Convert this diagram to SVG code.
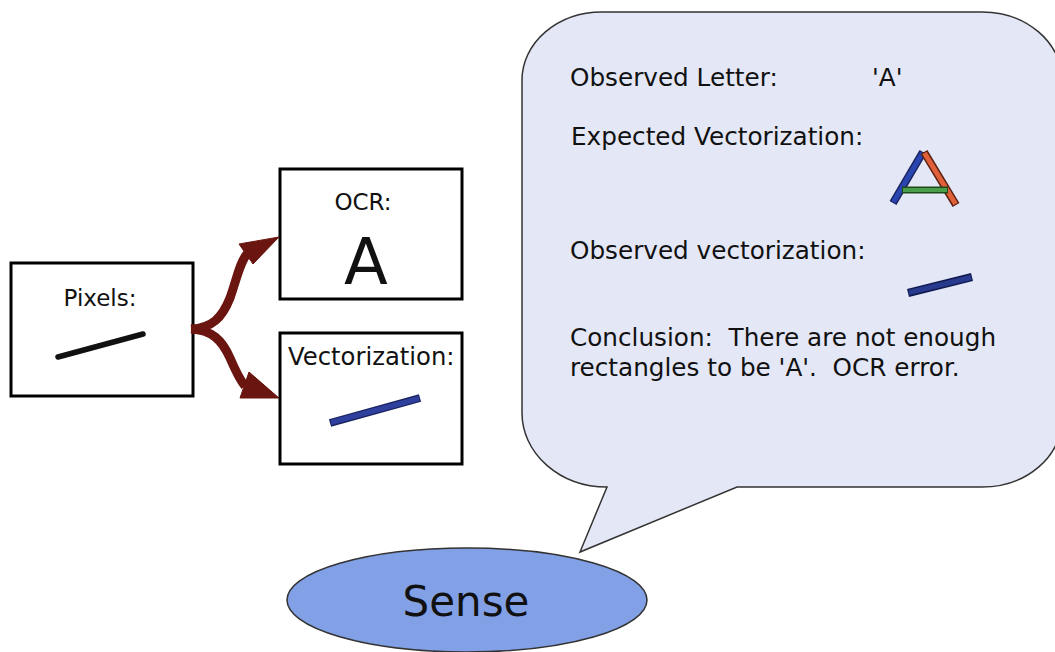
<svg xmlns="http://www.w3.org/2000/svg" width="1055" height="652" viewBox="0 0 1055 652">
  <style>
    .box { fill: #ffffff; stroke: #000000; stroke-width: 3; }
    .lbl { font-family: "DejaVu Sans", Verdana, sans-serif; fill: #111111; }
    .bt { font-size: 24.7px; }
    .arrow { fill: none; stroke: #6a150f; stroke-width: 9; stroke-linecap: butt; }
    .head { fill: #6a150f; stroke: #6a150f; stroke-width: 1; stroke-linejoin: round; }
    .vec { stroke-linecap: butt; }
  </style>
  <rect width="1055" height="652" fill="#ffffff"/>

  <g id="pixels">
    <rect class="box" x="11" y="263" width="182" height="133"/>
    <text class="lbl" x="100" y="306" font-size="23" text-anchor="middle">Pixels:</text>
    <line x1="58" y1="357" x2="143" y2="334" stroke="#111111" stroke-width="5.5" stroke-linecap="round"/>
  </g>

  <g id="ocr">
    <rect class="box" x="280" y="169" width="182" height="130"/>
    <text class="lbl" x="363" y="210" font-size="23" text-anchor="middle">OCR:</text>
    <text class="lbl" x="366" y="284" font-size="64" text-anchor="middle">A</text>
  </g>

  <g id="vectorization">
    <rect class="box" x="280" y="333" width="182" height="131"/>
    <text class="lbl" x="288" y="365" font-size="24.3">Vectorization:</text>
    <line class="vec" x1="330" y1="423" x2="420" y2="398" stroke="#1a2460" stroke-width="8"/>
    <line class="vec" x1="331" y1="422.5" x2="419" y2="398.5" stroke="#2e3f9e" stroke-width="5"/>
  </g>

  <g id="connectors">
    <path class="arrow" d="M 191,329 C 212,328 222,318 230,298 C 237,278 240,262 247,254"/>
    <polygon class="head" points="279,237 239,244 253,264"/>
    <path class="arrow" d="M 191,329 C 212,330 222,340 230,358 C 236,372 240,380 245,386"/>
    <polygon class="head" points="279,398 240,398 249,372"/>
  </g>

  <g id="bubble">
    <path d="M 602,12 L 982,12 A 80,68 0 0 1 1062,80 L 1062,419 A 80,68 0 0 1 982,487 L 737,487 L 580,552 L 607,487 A 85,74 0 0 1 522,413 L 522,80 A 80,68 0 0 1 602,12 Z" fill="#e4e7f5" stroke="#333333" stroke-width="1.5"/>
    <text class="lbl bt" x="570" y="86">Observed Letter:</text>
    <text class="lbl bt" x="872" y="86">'A'</text>
    <text class="lbl bt" x="571" y="145">Expected Vectorization:</text>
    <g class="vec">
      <line x1="893" y1="203" x2="923" y2="152" stroke="#1a2460" stroke-width="8"/>
      <line x1="893.5" y1="202" x2="922.5" y2="153" stroke="#2a45b0" stroke-width="5"/>
      <line x1="924" y1="152" x2="956" y2="205" stroke="#5a2010" stroke-width="8"/>
      <line x1="924.5" y1="153" x2="955.5" y2="204" stroke="#e0603a" stroke-width="5"/>
      <line x1="902" y1="190" x2="948" y2="190" stroke="#1e4a1e" stroke-width="7"/>
      <line x1="903" y1="190" x2="947" y2="190" stroke="#4a9e4a" stroke-width="4"/>
    </g>
    <text class="lbl bt" x="570" y="259">Observed vectorization:</text>
    <line class="vec" x1="908" y1="293" x2="972" y2="277" stroke="#101a50" stroke-width="8"/>
    <line class="vec" x1="909" y1="292.5" x2="971" y2="277.5" stroke="#283a8e" stroke-width="5"/>
    <text class="lbl bt" x="570" y="346" xml:space="preserve">Conclusion:  There are not enough</text>
    <text class="lbl bt" x="570" y="376" xml:space="preserve">rectangles to be 'A'.  OCR error.</text>
  </g>

  <g id="sense">
    <ellipse cx="467" cy="600" rx="180" ry="52" fill="#82a0e6" stroke="#333333" stroke-width="1.5"/>
    <text class="lbl" x="466" y="616" font-size="42" text-anchor="middle">Sense</text>
  </g>
</svg>
